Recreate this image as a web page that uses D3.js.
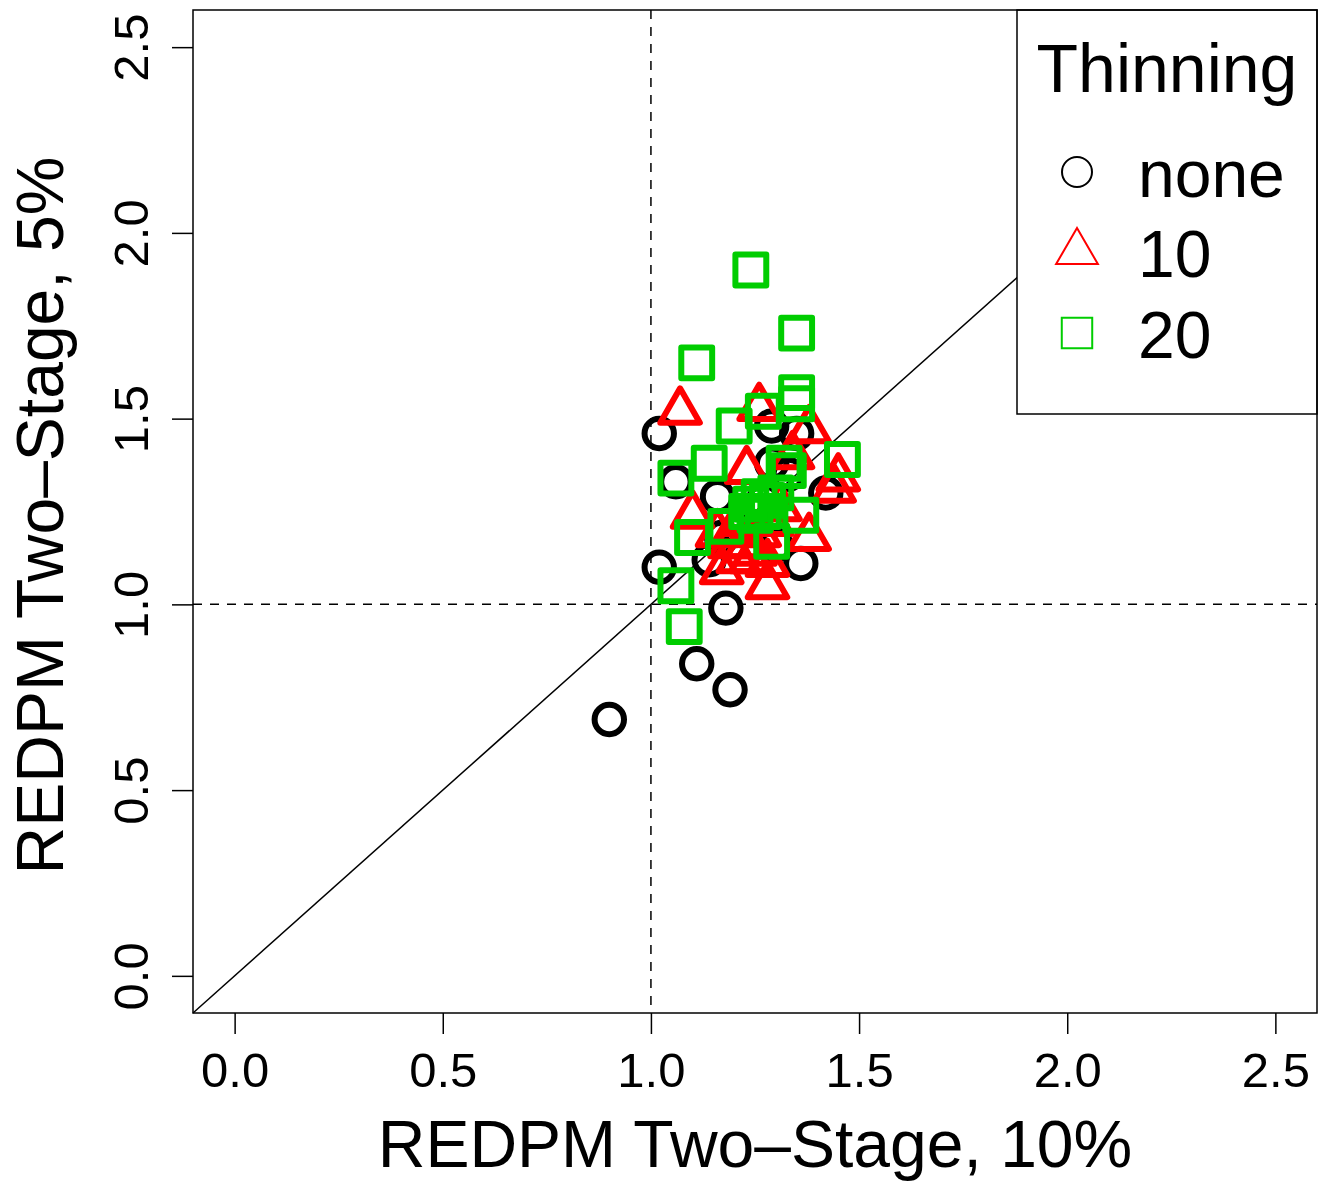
<!DOCTYPE html>
<html lang="en">
<head>
<meta charset="utf-8">
<title>REDPM Two-Stage</title>
<script src="https://cdn.jsdelivr.net/npm/d3@7"></script>
<style>
  body { margin: 0; background: #fff; }
  text { font-family: "Liberation Sans", Arial, Helvetica, sans-serif; }
</style>
</head>
<body>
<script>
// data: [x (10%), y (5%)]
var noneThin = [
  [0.90,0.69],[1.11,0.84],[1.19,0.77],[1.18,0.99],[1.02,1.10],[1.02,1.46],
  [1.06,1.33],[1.36,1.11],[1.42,1.30],[1.29,1.38],[1.29,1.48],[1.35,1.46],
  [1.16,1.29],[1.14,1.12],[1.30,1.16],[1.24,1.25],[1.21,1.20],[1.33,1.35],
  [1.27,1.28],[1.17,1.18]
];
var thin10 = [
  [1.07,1.52],[1.26,1.53],[1.38,1.47],[1.45,1.34],[1.44,1.31],[1.10,1.24],
  [1.38,1.18],[1.17,1.09],[1.28,1.05],[1.28,1.11],[1.23,1.36],[1.19,1.16],
  [1.22,1.22],[1.25,1.14],[1.16,1.19],[1.31,1.26],[1.21,1.12],[1.34,1.40],
  [1.20,1.20],[1.23,1.16],[1.26,1.19],[1.24,1.12],[1.29,1.22]
];
var thin20 = [
  [1.24,1.90],[1.35,1.73],[1.11,1.65],[1.20,1.48],[1.27,1.52],[1.35,1.57],
  [1.35,1.54],[1.06,1.34],[1.14,1.38],[1.32,1.38],[1.33,1.36],[1.46,1.39],
  [1.36,1.24],[1.10,1.18],[1.18,1.21],[1.29,1.17],[1.06,1.05],[1.08,0.94],
  [1.24,1.27],[1.26,1.29],[1.28,1.28],[1.25,1.24],[1.27,1.25],[1.23,1.25],
  [1.30,1.30]
];
var tickVals = [0.0, 0.5, 1.0, 1.5, 2.0, 2.5];
var legendLabels = ["none", "10", "20"];

var w = 1331, h = 1182;
var pl = 193, pr = 1317, pt = 10, pb = 1013;

var xScale = d3.scaleLinear().domain([-0.1, 2.6]).range([pl, pr]);
var yScale = d3.scaleLinear().domain([-0.1, 2.6]).range([pb, pt]);

var svg = d3.select("body").append("svg")
  .attr("width", w)
  .attr("height", h);

// reference lines
svg.append("line")
  .attr("x1", xScale(-0.1)).attr("y1", yScale(-0.1))
  .attr("x2", xScale(2.6)).attr("y2", yScale(2.6))
  .attr("stroke", "black").attr("stroke-width", 1.5);

svg.append("line")
  .attr("x1", xScale(1)).attr("x2", xScale(1))
  .attr("y1", pt).attr("y2", pb)
  .attr("stroke", "black").attr("stroke-width", 1.5)
  .attr("stroke-dasharray", "9,8");

svg.append("line")
  .attr("x1", pl).attr("x2", pr)
  .attr("y1", yScale(1)).attr("y2", yScale(1))
  .attr("stroke", "black").attr("stroke-width", 1.5)
  .attr("stroke-dasharray", "9,8");

// R style symbols, r0 = circle radius
function circlePath(r0) {
  var p = d3.path();
  p.moveTo(r0, 0);
  p.arc(0, 0, r0, 0, 2 * Math.PI);
  p.closePath();
  return p.toString();
}
function trianglePath(r0) {
  var xc = 1.3468 * r0, tp = 1.5551 * r0, yc = 0.7776 * r0;
  return "M0," + (-tp) + "L" + xc + "," + yc + "L" + (-xc) + "," + yc + "Z";
}
function squarePath(r0) {
  var s = 1.05 * r0;
  return "M" + (-s) + "," + (-s) + "H" + s + "V" + s + "H" + (-s) + "Z";
}

var r0 = 14.7;
var groups = [
  { data: noneThin, color: "#000000", path: circlePath },
  { data: thin10, color: "#FF0000", path: trianglePath },
  { data: thin20, color: "#00CD00", path: squarePath }
];

groups.forEach(function(g) {
  svg.append("g").selectAll("path")
    .data(g.data)
    .enter()
    .append("path")
    .attr("d", g.path(r0))
    .attr("transform", function(d) {
      return "translate(" + xScale(d[0]) + "," + yScale(d[1]) + ")";
    })
    .attr("fill", "none")
    .attr("stroke", g.color)
    .attr("stroke-width", 6)
    .attr("stroke-linejoin", "round");
});

// legend
var lg = svg.append("g");
lg.append("rect")
  .attr("x", 1017).attr("y", pt)
  .attr("width", pr - 1017).attr("height", 404)
  .attr("fill", "white").attr("stroke", "black").attr("stroke-width", 1.5);
lg.append("text")
  .attr("x", 1167).attr("y", 92)
  .attr("text-anchor", "middle")
  .attr("font-size", 68)
  .text("Thinning");
var legY = [172, 252, 333];
var legR = [15, 15.5, 14.5];
legendLabels.forEach(function(lbl, i) {
  lg.append("path")
    .attr("d", groups[i].path(legR[i]))
    .attr("transform", "translate(1077," + legY[i] + ")")
    .attr("fill", "none")
    .attr("stroke", groups[i].color)
    .attr("stroke-width", 2);
  lg.append("text")
    .attr("x", 1138).attr("y", legY[i] + 25)
    .attr("font-size", 66)
    .text(lbl);
});

// box
svg.append("rect")
  .attr("x", pl).attr("y", pt)
  .attr("width", pr - pl).attr("height", pb - pt)
  .attr("fill", "none").attr("stroke", "black").attr("stroke-width", 1.5);

// x axis
var xAxis = d3.axisBottom(xScale)
  .tickValues(tickVals)
  .tickFormat(d3.format(".1f"))
  .tickSize(21)
  .tickPadding(18);
var gx = svg.append("g")
  .attr("transform", "translate(0," + pb + ")")
  .call(xAxis);
gx.select(".domain").remove();
gx.selectAll("line").attr("stroke-width", 1.5);
gx.selectAll("text")
  .attr("font-size", 49)
  .attr("font-family", "Liberation Sans, Arial, sans-serif")
  .attr("fill", "black");

// y axis
var yAxis = d3.axisLeft(yScale)
  .tickValues(tickVals)
  .tickFormat(d3.format(".1f"))
  .tickSize(21)
  .tickPadding(0);
var gy = svg.append("g")
  .attr("transform", "translate(" + pl + ",0)")
  .call(yAxis);
gy.select(".domain").remove();
gy.selectAll("line").attr("stroke-width", 1.5);
gy.selectAll("text")
  .attr("font-size", 49)
  .attr("font-family", "Liberation Sans, Arial, sans-serif")
  .attr("fill", "black")
  .attr("x", null).attr("dy", null)
  .attr("text-anchor", "middle")
  .attr("transform", "translate(-45,0) rotate(-90)");

// axis titles
svg.append("text")
  .attr("x", (pl + pr) / 2).attr("y", 1167)
  .attr("text-anchor", "middle")
  .attr("font-size", 66)
  .text("REDPM Two\u2013Stage, 10%");
svg.append("text")
  .attr("transform", "translate(63," + ((pt + pb) / 2 + 4) + ") rotate(-90)")
  .attr("text-anchor", "middle")
  .attr("font-size", 66)
  .text("REDPM Two\u2013Stage, 5%");
</script>
</body>
</html>
